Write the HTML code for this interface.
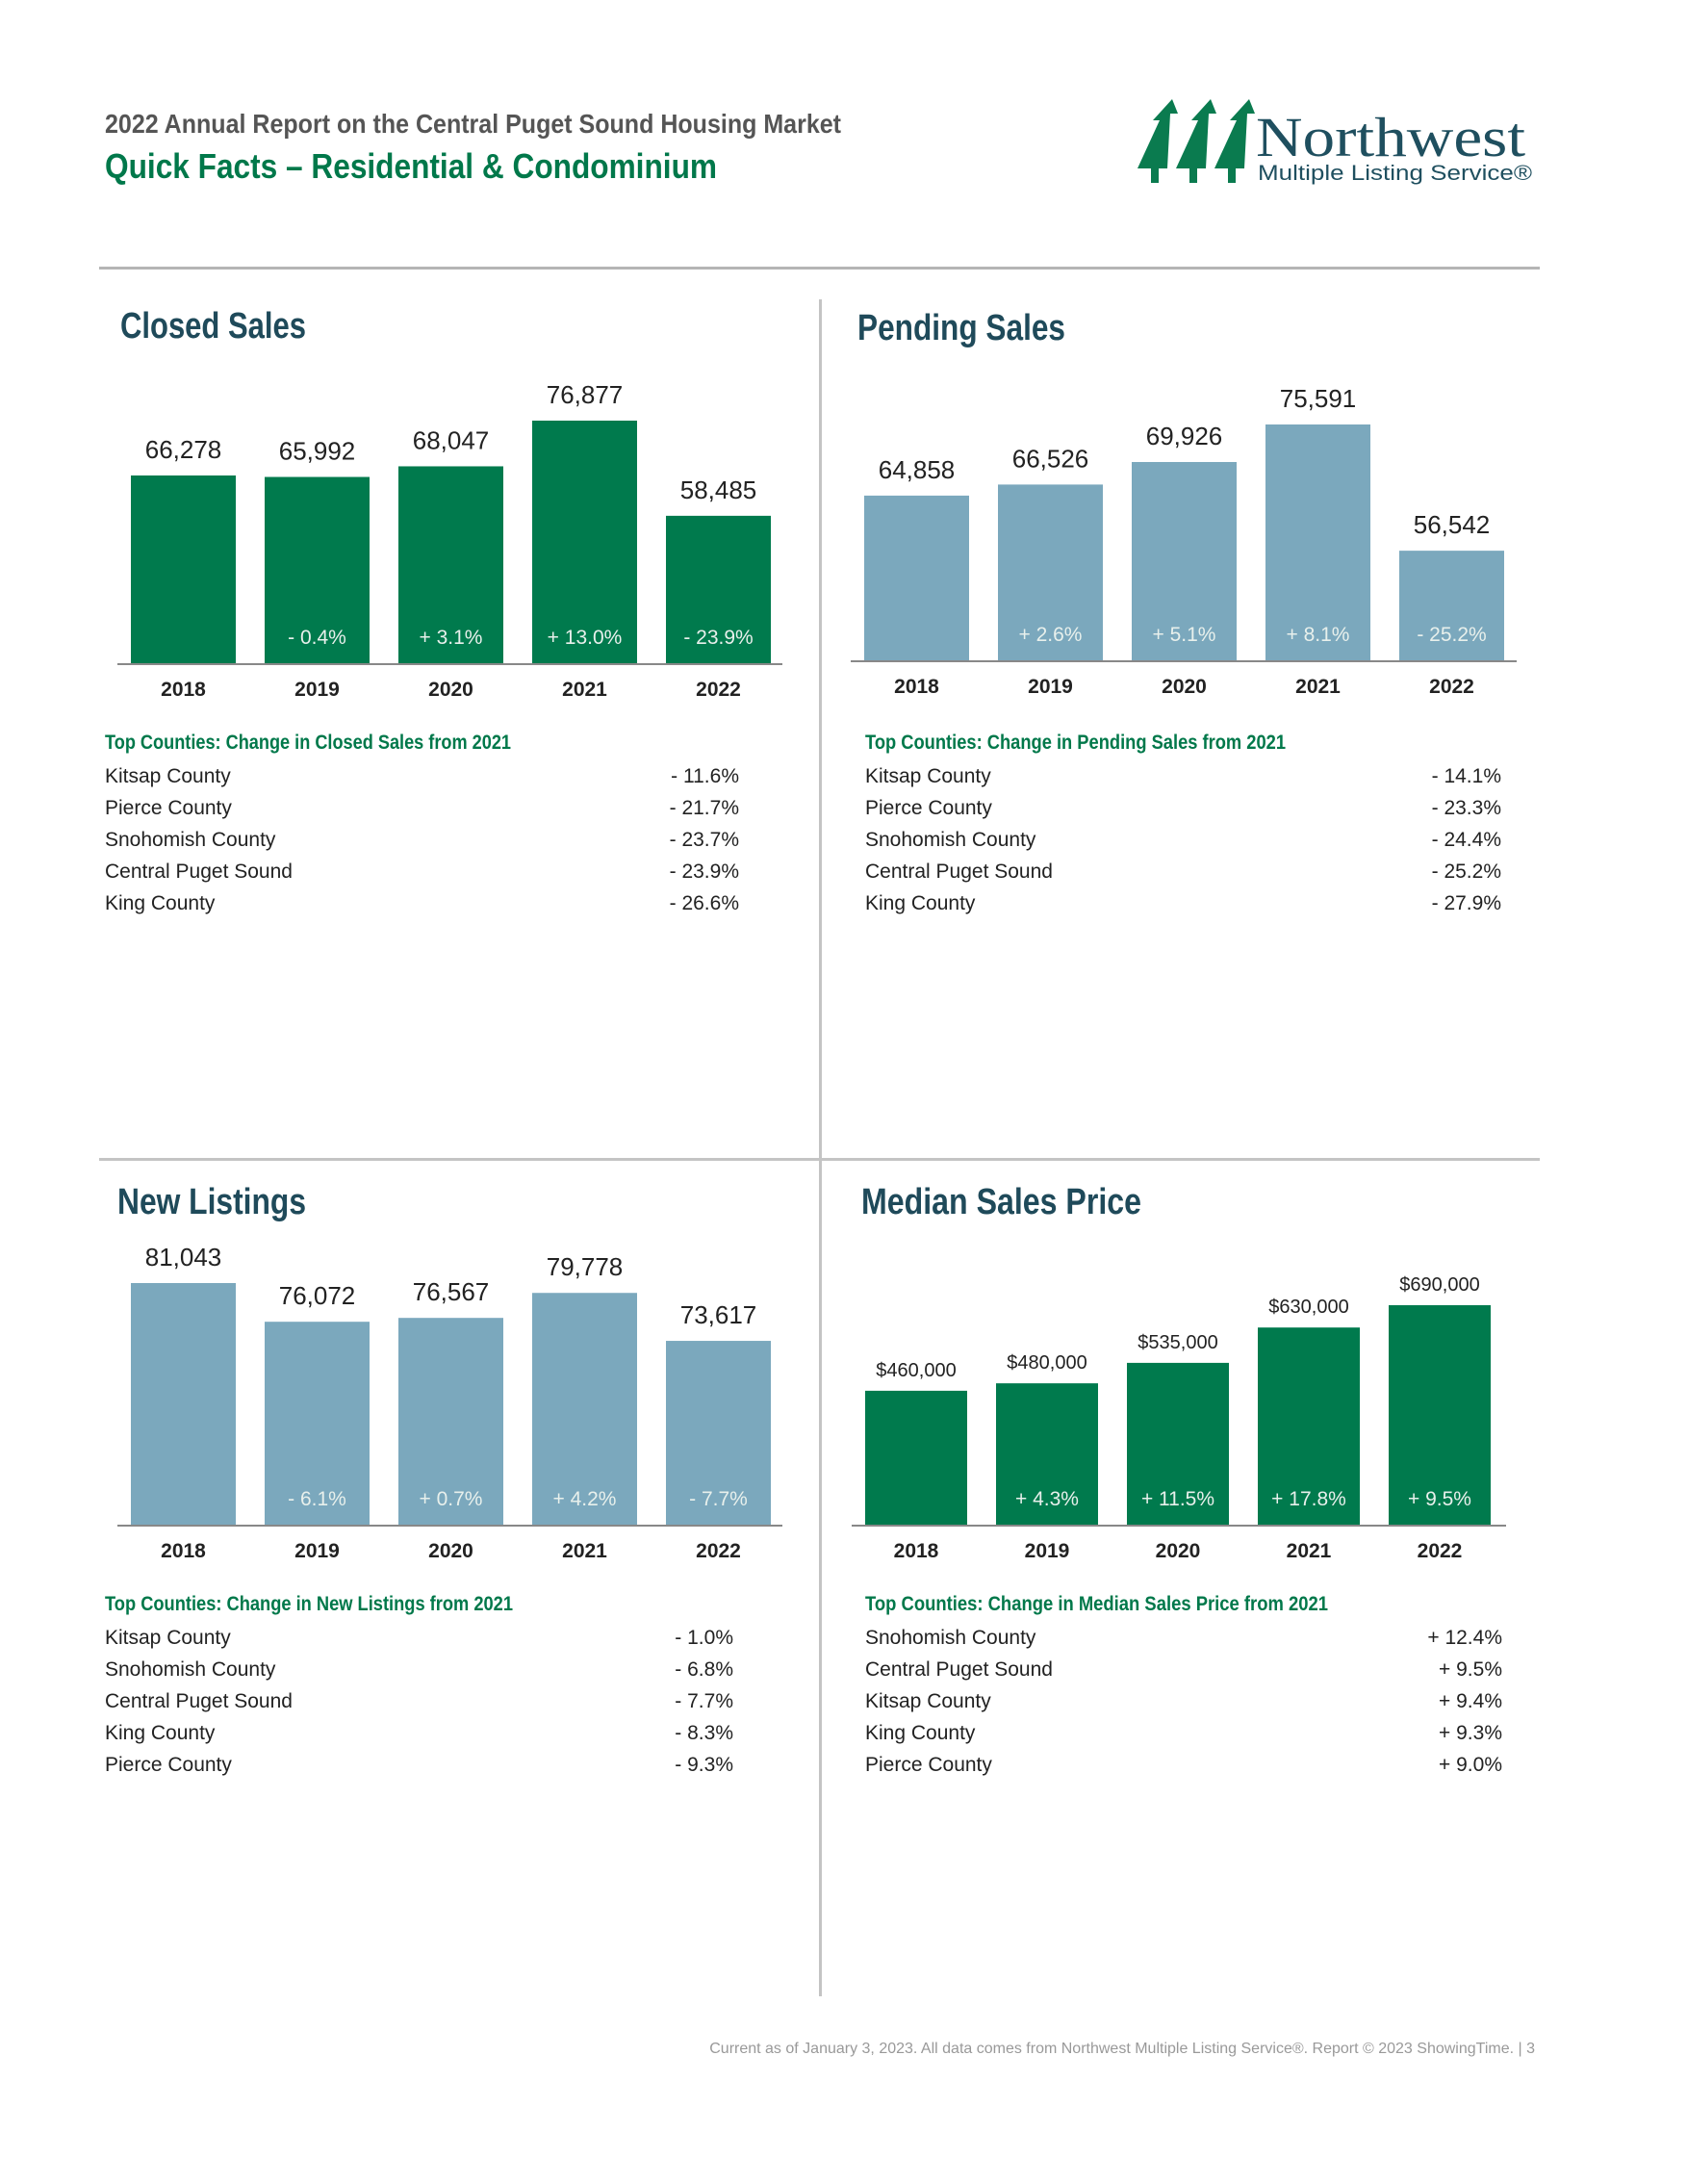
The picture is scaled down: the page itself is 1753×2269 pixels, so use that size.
<!DOCTYPE html>
<html><head><meta charset="utf-8">
<style>
html,body{margin:0;padding:0;background:#fff;}
body{width:1753px;height:2269px;position:relative;overflow:hidden;font-family:"Liberation Sans",sans-serif;}
svg{position:absolute;left:0;top:0;}
.nar{font-family:"Liberation Sans Narrow","Liberation Sans",sans-serif;}
</style></head>
<body>
<svg id="page" width="1753" height="2269" viewBox="0 0 1753 2269">
  <text class="nar" x="109" y="138" font-size="28" font-weight="bold" fill="#555" textLength="765" lengthAdjust="spacingAndGlyphs">2022 Annual Report on the Central Puget Sound Housing Market</text>
  <text class="nar" x="109" y="185" font-size="36" font-weight="bold" fill="#00784a" textLength="636" lengthAdjust="spacingAndGlyphs">Quick Facts – Residential &amp; Condominium</text>
  <g>
    <g fill="#0a7b4f">
      <polygon points="1182,175 1205,125 1198,125 1218,103 1224,118 1216,118 1213,175"/>
      <polygon points="1222,175 1245,125 1238,125 1258,103 1264,118 1256,118 1253,175"/>
      <polygon points="1262,175 1285,125 1278,125 1298,103 1304,118 1296,118 1293,175"/>
      <rect x="1196" y="172" width="8" height="18"/><rect x="1236" y="172" width="8" height="18"/><rect x="1276" y="172" width="8" height="18"/>
    </g>
    <text x="1305" y="162" font-family="'Liberation Serif',serif" font-size="58" fill="#1f4f5f" textLength="280" lengthAdjust="spacingAndGlyphs">Northwest</text>
    <text x="1307" y="187" font-size="22" fill="#1f4f5f" textLength="285" lengthAdjust="spacingAndGlyphs">Multiple Listing Service®</text>
  </g>
  <rect x="103" y="277" width="1497" height="3" fill="#b5b5b5"/>
  <rect x="103" y="1203" width="1497" height="3" fill="#c4c4c4"/>
  <rect x="851" y="311" width="3" height="1763" fill="#c4c4c4"/>
  <text x="1595" y="2133" font-size="16" fill="#999" text-anchor="end">Current as of January 3, 2023. All data comes from Northwest Multiple Listing Service®. Report © 2023 ShowingTime.  |  3</text>
  <g id="charts"></g>
</svg>
<script>
const NS='http://www.w3.org/2000/svg';
const years=['2018','2019','2020','2021','2022'];
const closedValues=[66278,65992,68047,76877,58485];
const closedChanges=['','- 0.4%','+ 3.1%','+ 13.0%','- 23.9%'];
const closedCounties=['Kitsap County','Pierce County','Snohomish County','Central Puget Sound','King County'];
const closedCountyChanges=['- 11.6%','- 21.7%','- 23.7%','- 23.9%','- 26.6%'];
const pendingValues=[64858,66526,69926,75591,56542];
const pendingChanges=['','+ 2.6%','+ 5.1%','+ 8.1%','- 25.2%'];
const pendingCounties=['Kitsap County','Pierce County','Snohomish County','Central Puget Sound','King County'];
const pendingCountyChanges=['- 14.1%','- 23.3%','- 24.4%','- 25.2%','- 27.9%'];
const listingValues=[81043,76072,76567,79778,73617];
const listingChanges=['','- 6.1%','+ 0.7%','+ 4.2%','- 7.7%'];
const listingCounties=['Kitsap County','Snohomish County','Central Puget Sound','King County','Pierce County'];
const listingCountyChanges=['- 1.0%','- 6.8%','- 7.7%','- 8.3%','- 9.3%'];
const priceValues=[460000,480000,535000,630000,690000];
const priceChanges=['','+ 4.3%','+ 11.5%','+ 17.8%','+ 9.5%'];
const priceCounties=['Snohomish County','Central Puget Sound','Kitsap County','King County','Pierce County'];
const priceCountyChanges=['+ 12.4%','+ 9.5%','+ 9.4%','+ 9.3%','+ 9.0%'];

const root=document.getElementById('charts');
function mk(tag,attrs,parent,txt){const e=document.createElementNS(NS,tag);for(const k in attrs)e.setAttribute(k,attrs[k]);if(txt!==undefined)e.textContent=txt;parent.appendChild(e);return e;}

function chart(cfg){
  const g=mk('g',{},root);
  
  
  const t=mk('text',{x:cfg.tx,y:cfg.ty,'font-size':38,'font-weight':'bold',fill:'#1f4a5a','class':'nar',textLength:cfg.tw,lengthAdjust:'spacingAndGlyphs'},g,cfg.title);
  
  
  const y=v=>cfg.base-(v-cfg.min)/(cfg.max-cfg.min)*(cfg.base-cfg.top);
  const bw=cfg.bw;
  cfg.values.forEach((v,i)=>{
    const x=cfg.x0+i*cfg.step;
    const r=mk('rect',{x:x,y:y(v),width:bw,height:cfg.base-y(v),fill:cfg.color},g);
    
    
    const lbl=mk('text',{x:x+bw/2,y:y(v)-cfg.lblOff,'text-anchor':'middle','font-size':cfg.lblSize,fill:'#222'},g,cfg.fmt(v));
    
    
    if(cfg.changes[i]){
      const c=mk('text',{x:x+bw/2,y:cfg.base-20,'text-anchor':'middle','font-size':21,fill:'#e8f0ec'},g,cfg.changes[i]);
      
      
    }
    const yr=mk('text',{x:x+bw/2,y:cfg.base+34,'text-anchor':'middle','font-size':21,'font-weight':'bold',fill:'#222'},g,years[i]);
    
    
  });
  const ax=mk('rect',{x:cfg.ax0,y:cfg.base,width:cfg.ax1-cfg.ax0,height:2,fill:'#888'},g);
  
  
  const h=mk('text',{x:cfg.tabX,y:cfg.tabY,'font-size':21,'font-weight':'bold',fill:'#00784a','class':'nar',textLength:cfg.hw,lengthAdjust:'spacingAndGlyphs'},g,cfg.tabTitle);
  
  
  cfg.counties.forEach((c,i)=>{
    const n=mk('text',{x:cfg.tabX,y:cfg.tabY+35+i*33,'font-size':21,fill:'#222'},g,c);
    
    
    const v=mk('text',{x:cfg.tabR,y:cfg.tabY+35+i*33,'font-size':21,fill:'#222','text-anchor':'end'},g,cfg.countyChanges[i]);
    
    
  });
}
const num=v=>v.toLocaleString('en-US');
const usd=v=>'$'+v.toLocaleString('en-US');
chart({name:'closed-sales-chart',title:'Closed Sales',tx:125,ty:351,tw:193,values:closedValues,changes:closedChanges,min:30000,max:76877,top:437,base:689,x0:136,step:139,bw:109,ax0:122,ax1:813,color:'#007a4d',fmt:num,lblSize:26,lblOff:18,tabTitle:'Top Counties: Change in Closed Sales from 2021',hw:422,tabX:109,tabY:778,tabR:768,counties:closedCounties,countyChanges:closedCountyChanges});
chart({name:'pending-sales-chart',title:'Pending Sales',tx:891,ty:353,tw:216,values:pendingValues,changes:pendingChanges,min:40000,max:75591,top:441,base:686,x0:898,step:139,bw:109,ax0:884,ax1:1576,color:'#7ba8bd',fmt:num,lblSize:26,lblOff:18,tabTitle:'Top Counties: Change in Pending Sales from 2021',hw:437,tabX:899,tabY:778,tabR:1560,counties:pendingCounties,countyChanges:pendingCountyChanges});
chart({name:'new-listings-chart',title:'New Listings',tx:122,ty:1261,tw:196,values:listingValues,changes:listingChanges,min:50000,max:81043,top:1333,base:1584,x0:136,step:139,bw:109,ax0:122,ax1:813,color:'#7ba8bd',fmt:num,lblSize:26,lblOff:18,tabTitle:'Top Counties: Change in New Listings from 2021',hw:424,tabX:109,tabY:1673,tabR:762,counties:listingCounties,countyChanges:listingCountyChanges});
chart({name:'median-price-chart',title:'Median Sales Price',tx:895,ty:1261,tw:291,values:priceValues,changes:priceChanges,min:100000,max:690000,top:1356,base:1584,x0:899,step:136,bw:106,ax0:885,ax1:1565,color:'#007a4d',fmt:usd,lblSize:20,lblOff:15,tabTitle:'Top Counties: Change in Median Sales Price from 2021',hw:481,tabX:899,tabY:1673,tabR:1561,counties:priceCounties,countyChanges:priceCountyChanges});
</script>
</body></html>
